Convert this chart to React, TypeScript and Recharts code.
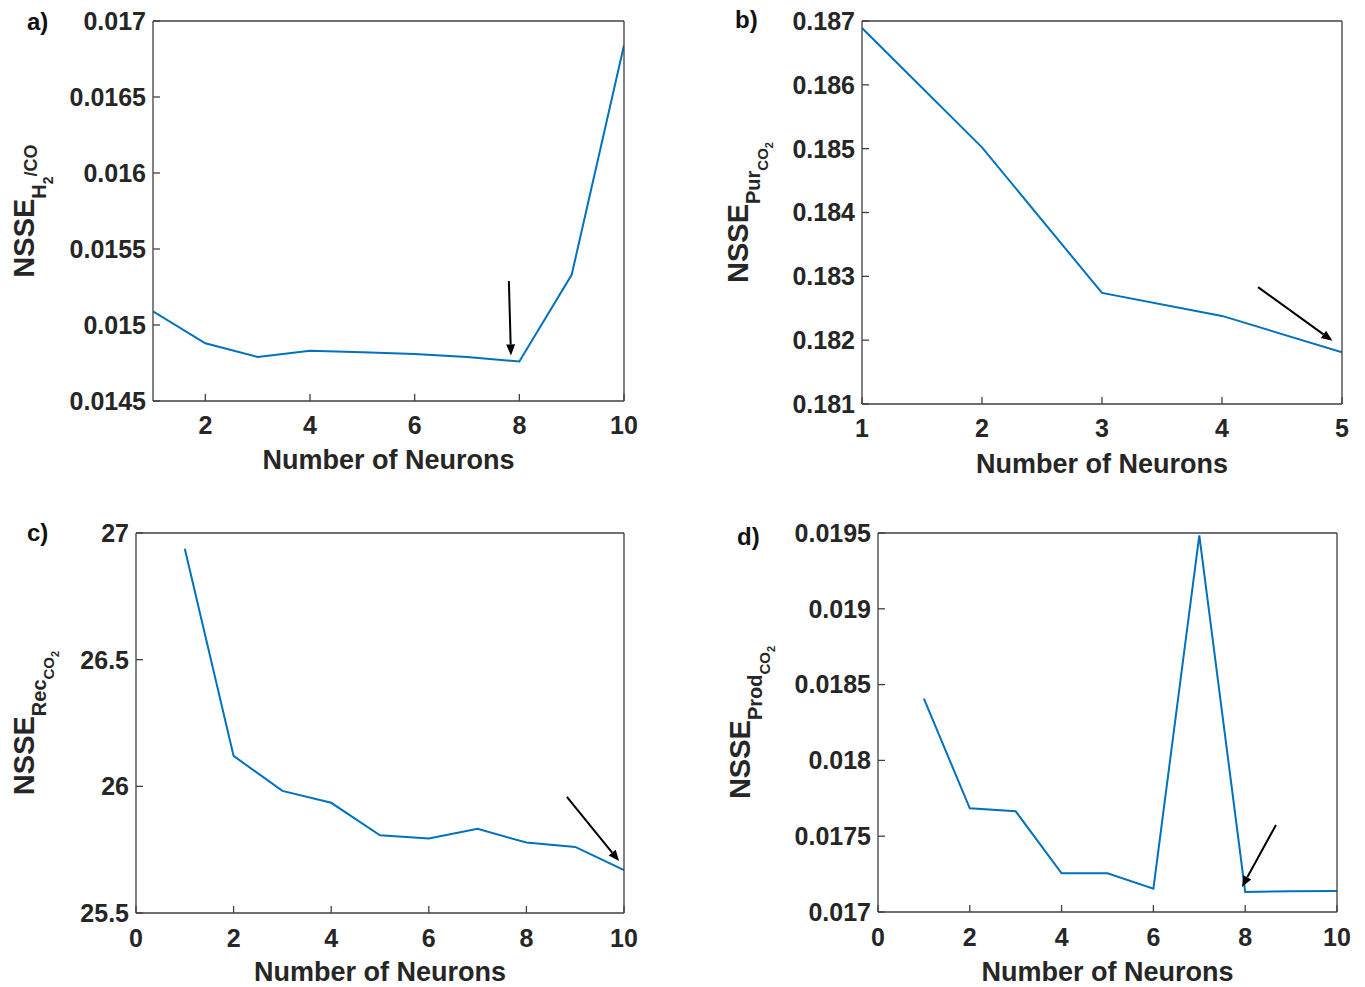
import React from "react";
import { LineChart, Line, XAxis, YAxis, ReferenceLine } from "recharts";

// neuron counts and normalised SSE
const neuronsA = [1, 2, 3, 4, 5, 6, 7, 8, 9, 10];
const nsseA = [0.01509, 0.01488, 0.01479, 0.01483, 0.01482, 0.01481, 0.01479, 0.01476, 0.01533, 0.01684];
const neuronsB = [1, 2, 3, 4, 5];
const nsseB = [0.18689, 0.18502, 0.18274, 0.18238, 0.18181];
const neuronsC = [1, 2, 3, 4, 5, 6, 7, 8, 9, 10];
const nsseC = [26.938, 26.12, 25.982, 25.935, 25.807, 25.794, 25.832, 25.778, 25.761, 25.669];
const neuronsD = [1, 2, 3, 4, 5, 6, 7, 8, 9, 10];
const nsseD = [0.018407, 0.017684, 0.017664, 0.017255, 0.017255, 0.017154, 0.019485, 0.017132, 0.017137, 0.017138];

const xTicksA = [2, 4, 6, 8, 10];
const yTicksA = [0.0145, 0.015, 0.0155, 0.016, 0.0165, 0.017];
const xTicksB = [1, 2, 3, 4, 5];
const yTicksB = [0.181, 0.182, 0.183, 0.184, 0.185, 0.186, 0.187];
const xTicksC = [0, 2, 4, 6, 8, 10];
const yTicksC = [25.5, 26, 26.5, 27];
const xTicksD = [0, 2, 4, 6, 8, 10];
const yTicksD = [0.017, 0.0175, 0.018, 0.0185, 0.019, 0.0195];

// arrow annotations, [start, end] in data units
const arrowA = [{ x: 7.8, y: 0.01529 }, { x: 7.84, y: 0.0148 }];
const arrowB = [{ x: 4.3, y: 0.18283 }, { x: 4.92, y: 0.18199 }];
const arrowC = [{ x: 8.83, y: 25.958 }, { x: 9.9, y: 25.705 }];
const arrowD = [{ x: 8.67, y: 0.017574 }, { x: 7.93, y: 0.017165 }];

const FONT = '"Liberation Sans", Arial, sans-serif';
const INK = "#262626";
const AXIS = "#404040";
const BLUE = "#0072BD";

const Arrow = (p: any) => {
  const { x1, y1, x2, y2 } = p;
  const a = Math.atan2(y2 - y1, x2 - x1);
  const L = 11, W = 4.5;
  const bx = x2 - L * Math.cos(a), by = y2 - L * Math.sin(a);
  const px = -Math.sin(a) * W, py = Math.cos(a) * W;
  return (
    <g>
      <line x1={x1} y1={y1} x2={bx} y2={by} stroke="#000" strokeWidth={2} />
      <polygon points={`${x2},${y2} ${bx + px},${by + py} ${bx - px},${by - py}`} fill="#000" />
    </g>
  );
};

const YTitle = ({ viewBox, tx, parts }: any) => {
  const cy = viewBox.y + viewBox.height / 2;
  return (
    <text x={tx} y={cy} transform={`rotate(-90, ${tx}, ${cy})`} textAnchor="middle" fill={INK} fontWeight="bold" fontSize={29} fontFamily={FONT}>
      NSSE
      {parts.map((t: any, i: number) => (
        <tspan key={i} fontSize={t.size} dy={t.dy}>{t.text}</tspan>
      ))}
    </text>
  );
};

const XTitle = ({ viewBox, off }: any) => (
  <text x={viewBox.x + viewBox.width / 2} y={viewBox.y + off} textAnchor="middle" dominantBaseline="central" fill={INK} fontWeight="bold" fontSize={27} fontFamily={FONT}>
    Number of Neurons
  </text>
);

function Panel({ n, v, xTicks, yTicks, xDom, yDom, arrow, w, h, margin, yW, xH, tx, parts, xOff, tm }: any) {
  const data = n.map((k: number, i: number) => ({ n: k, v: v[i] }));
  const tick = { fontSize: 25, fontWeight: "bold", fill: INK };
  return (
    <LineChart width={w} height={h} data={data} margin={margin} style={{ fontFamily: FONT }}>
      <XAxis type="number" dataKey="n" domain={xDom} ticks={xTicks} allowDataOverflow height={xH}
        stroke={AXIS} strokeWidth={1.3} tickSize={-7} tickMargin={tm} tick={tick}
        label={{ content: (p: any) => <XTitle {...p} off={xOff} /> }} />
      <XAxis xAxisId="top" orientation="top" type="number" dataKey="n" domain={xDom} ticks={xTicks} allowDataOverflow height={1}
        stroke={AXIS} strokeWidth={1.3} tickSize={-7} tick={false} />
      <YAxis type="number" domain={yDom} ticks={yTicks} allowDataOverflow width={yW}
        stroke={AXIS} strokeWidth={1.3} tickSize={-7} tickMargin={14} tick={tick}
        label={{ content: (p: any) => <YTitle {...p} tx={tx} parts={parts} /> }} />
      <YAxis yAxisId="right" orientation="right" type="number" domain={yDom} ticks={yTicks} allowDataOverflow width={1}
        stroke={AXIS} strokeWidth={1.3} tickSize={-7} tick={false} />
      {/* invisible twin so the top/right box axes get drawn */}
      <Line xAxisId="top" yAxisId="right" type="linear" dataKey="v" stroke="none" dot={false} activeDot={false} isAnimationActive={false} />
      <Line type="linear" dataKey="v" stroke={BLUE} strokeWidth={2} dot={false} isAnimationActive={false} />
      <ReferenceLine segment={arrow} ifOverflow="visible" shape={Arrow} />
    </LineChart>
  );
}

const tag = (t: string, left: number, top: number) => (
  <div style={{ position: "absolute", left, top, fontFamily: FONT, fontWeight: "bold", fontSize: 24, lineHeight: "26px", color: "#111" }}>{t}</div>
);

export default function App() {
  return (
    <div style={{ position: "absolute", left: 0, top: 0, width: 1365, height: 987, background: "#fff", overflow: "hidden" }}>
      <div style={{ position: "absolute", left: 0, top: 0 }}>
        <Panel n={neuronsA} v={nsseA} xTicks={xTicksA} yTicks={yTicksA} xDom={[1, 10]} yDom={[0.0145, 0.017]} arrow={arrowA}
          w={680} h={490} margin={{ top: 20, right: 55, bottom: 0, left: 0 }} yW={153} xH={89} xOff={59} tx={34} tm={22}
          parts={[{ text: "H", size: 20, dy: 12 }, { text: "2", size: 14, dy: 7 }, { text: "/CO", size: 18, dy: -16 }]} />
      </div>
      <div style={{ position: "absolute", left: 683, top: 0 }}>
        <Panel n={neuronsB} v={nsseB} xTicks={xTicksB} yTicks={yTicksB} xDom={[1, 5]} yDom={[0.181, 0.187]} arrow={arrowB}
          w={682} h={490} margin={{ top: 20, right: 22, bottom: 0, left: 0 }} yW={179} xH={86} xOff={60} tx={65} tm={22}
          parts={[{ text: "Pur", size: 20, dy: 12 }, { text: "CO", size: 15, dy: 8 }, { text: "2", size: 11, dy: 5 }]} />
      </div>
      <div style={{ position: "absolute", left: 0, top: 495 }}>
        <Panel n={neuronsC} v={nsseC} xTicks={xTicksC} yTicks={yTicksC} xDom={[0, 10]} yDom={[25.5, 27]} arrow={arrowC}
          w={680} h={492} margin={{ top: 37, right: 55, bottom: 0, left: 0 }} yW={136} xH={74} xOff={59} tx={34} tm={23}
          parts={[{ text: "Rec", size: 20, dy: 12 }, { text: "CO", size: 15, dy: 8 }, { text: "2", size: 11, dy: 5 }]} />
      </div>
      <div style={{ position: "absolute", left: 683, top: 495 }}>
        <Panel n={neuronsD} v={nsseD} xTicks={xTicksD} yTicks={yTicksD} xDom={[0, 10]} yDom={[0.017, 0.0195]} arrow={arrowD}
          w={682} h={492} margin={{ top: 37, right: 27, bottom: 0, left: 0 }} yW={195} xH={75} xOff={60} tx={67} tm={23}
          parts={[{ text: "Prod", size: 20, dy: 12 }, { text: "CO", size: 15, dy: 8 }, { text: "2", size: 11, dy: 5 }]} />
      </div>
      {tag("a)", 27, 9)}
      {tag("b)", 735, 7)}
      {tag("c)", 27, 520)}
      {tag("d)", 737, 524)}
    </div>
  );
}
